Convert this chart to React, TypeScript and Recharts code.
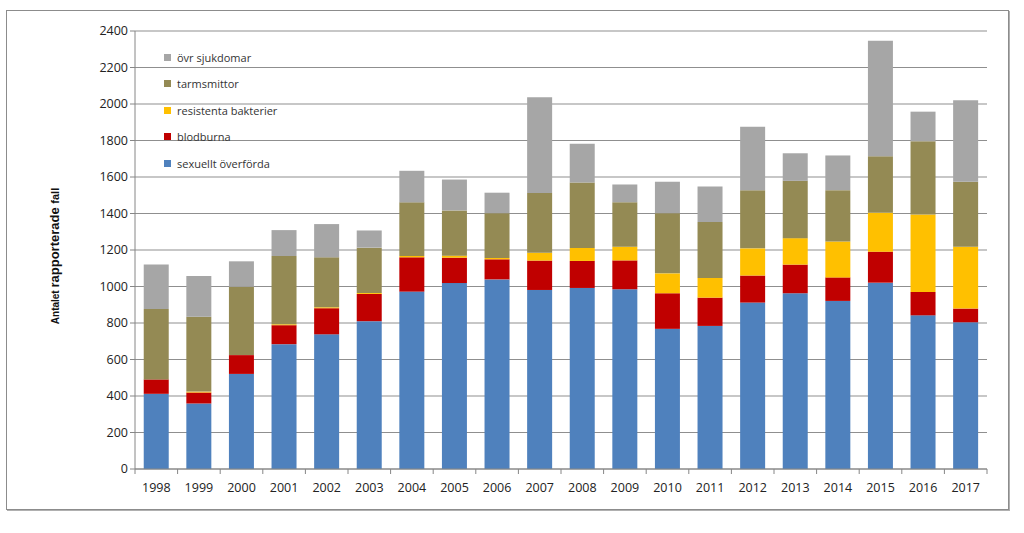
import { BarChart, Bar, XAxis, YAxis, CartesianGrid, Legend } from "recharts";

const years = [
  "1998", "1999", "2000", "2001", "2002", "2003", "2004", "2005", "2006", "2007",
  "2008", "2009", "2010", "2011", "2012", "2013", "2014", "2015", "2016", "2017",
];

// sexuellt överförda
const sexuellt = [412, 359, 521, 684, 738, 810, 972, 1019, 1039, 981, 992, 985, 768, 784, 912, 963, 921, 1021, 842, 804];
// blodburna
const blodburna = [79, 60, 103, 104, 143, 149, 188, 139, 110, 161, 148, 158, 195, 155, 148, 157, 129, 170, 128, 75];
// resistenta bakterier
const resistenta = [0, 5, 0, 5, 5, 5, 7, 11, 7, 43, 71, 75, 109, 108, 149, 145, 197, 213, 425, 339];
// tarmsmittor
const tarmsmittor = [386, 410, 375, 374, 274, 249, 294, 248, 246, 327, 359, 244, 330, 306, 319, 314, 281, 310, 401, 356];
// övr sjukdomar
const ovrigt = [244, 223, 139, 142, 182, 94, 173, 169, 112, 525, 212, 97, 172, 195, 347, 151, 190, 632, 162, 446];

const yTicks = [0, 200, 400, 600, 800, 1000, 1200, 1400, 1600, 1800, 2000, 2200, 2400];

const series = [
  { key: "sexuellt", name: "sexuellt överförda", color: "#4F81BD" },
  { key: "blodburna", name: "blodburna", color: "#C00000" },
  { key: "resistenta", name: "resistenta bakterier", color: "#FFC000" },
  { key: "tarmsmittor", name: "tarmsmittor", color: "#948A54" },
  { key: "ovrigt", name: "övr sjukdomar", color: "#A6A6A6" },
];

const data = years.map((year, i) => ({
  year,
  sexuellt: sexuellt[i],
  blodburna: blodburna[i],
  resistenta: resistenta[i],
  tarmsmittor: tarmsmittor[i],
  ovrigt: ovrigt[i],
}));

const W = 1001;
const H = 498;
const margin = { top: 20, right: 21, bottom: 10, left: 68 };
const plotW = W - margin.left - margin.right - 60;
const step = plotW / years.length;

const font = "'Open Sans', 'Noto Sans', sans-serif";

function XTick(props: any) {
  const { x, y, payload } = props;
  return (
    <g>
      <line x1={x - step / 2} x2={x - step / 2} y1={y - 8} y2={y - 3} stroke="#868686" />
      {payload.index === years.length - 1 && (
        <line x1={x + step / 2} x2={x + step / 2} y1={y - 8} y2={y - 3} stroke="#868686" />
      )}
      <text x={x} y={y + 15} textAnchor="middle" fontSize={12.5} fill="#222" fontFamily={font}>
        {payload.value}
      </text>
    </g>
  );
}

function LegendBox() {
  const items = [...series].reverse();
  return (
    <div style={{ fontFamily: font, fontSize: 11, color: "#333" }}>
      {items.map((it) => (
        <div key={it.key} style={{ display: "flex", alignItems: "center", height: 26.5 }}>
          <span
            style={{ width: 7, height: 7, background: it.color, display: "inline-block", marginRight: 6 }}
          />
          {it.name}
        </div>
      ))}
    </div>
  );
}

export default function App() {
  return (
    <div
      style={{
        position: "absolute",
        left: 6,
        top: 10,
        width: W,
        height: H,
        border: "1px solid #8c8c8c",
        boxShadow: "1px 1px 0 #b0b0b0",
        background: "#fff",
      }}
    >
      <div
        style={{
          position: "absolute",
          left: 47,
          top: 245,
          transform: "translate(-50%, -50%) rotate(-90deg)",
          whiteSpace: "nowrap",
          fontFamily: "'Liberation Sans', Arial, sans-serif",
          fontWeight: "bold",
          color: "#111",
          lineHeight: 1,
        }}
      >
        <span style={{ fontSize: 10 }}>Antalet </span>
        <span style={{ fontSize: 13 }}>rapporterade </span>
        <span style={{ fontSize: 11 }}>fall</span>
      </div>
      <BarChart width={W} height={H} data={data} margin={margin} barCategoryGap="20.5%">
        <CartesianGrid vertical={false} stroke="#8f8f8f" />
        <XAxis
          dataKey="year"
          tick={<XTick />}
          tickLine={false}
          axisLine={{ stroke: "#868686" }}
          height={30}
          interval={0}
        />
        <YAxis
          domain={[0, 2400]}
          ticks={yTicks}
          interval={0}
          width={60}
          axisLine={{ stroke: "#868686" }}
          tickLine={{ stroke: "#868686" }}
          tickSize={5}
          tick={{ fontSize: 12.5, fill: "#222", fontFamily: font }}
        />
        <Legend
          layout="vertical"
          verticalAlign="middle"
          align="center"
          wrapperStyle={{ left: 157, top: 33, width: 200 }}
          content={<LegendBox />}
        />
        {series.map((s) => (
          <Bar key={s.key} dataKey={s.key} name={s.name} stackId="a" fill={s.color} isAnimationActive={false} />
        ))}
      </BarChart>
    </div>
  );
}
